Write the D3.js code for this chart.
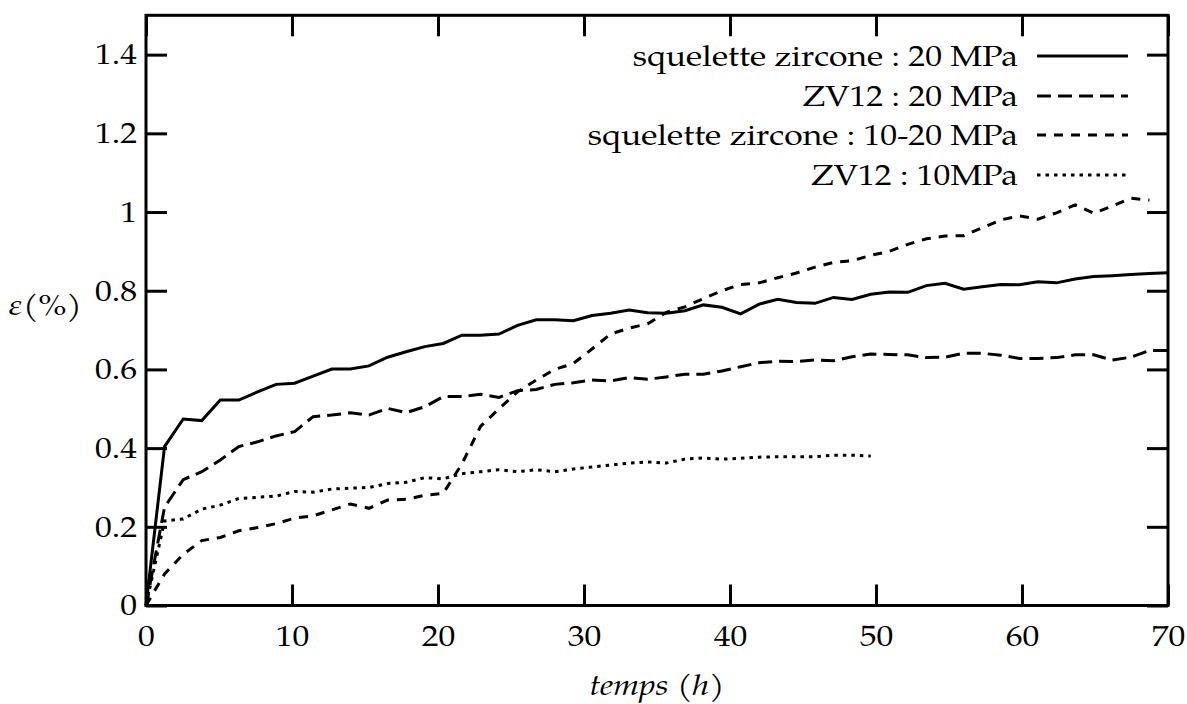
<!DOCTYPE html>
<html>
<head>
<meta charset="utf-8">
<script src="https://cdn.jsdelivr.net/npm/d3@7"></script>
<style>
  html, body { margin: 0; padding: 0; background: #fff; }
  svg { display: block; }
</style>
</head>
<body>
<svg id="chart" width="1187" height="704"></svg>
<script>
// Sampling times (h)
const hours = [0, 1.27, 2.55, 3.82, 5.09, 6.36, 7.64, 8.91, 10.18, 11.45, 12.73, 14, 15.27, 16.55,
  17.82, 19.09, 20.36, 21.64, 22.91, 24.18, 25.45, 26.73, 28, 29.27, 30.55, 31.82, 33.09, 34.36,
  35.64, 36.91, 38.18, 39.45, 40.73, 42, 43.27, 44.55, 45.82, 47.09, 48.36, 49.64, 50.91, 52.18,
  53.45, 54.73, 56, 57.27, 58.55, 59.82, 61.09, 62.36, 63.64, 64.91, 66.18, 67.45, 68.73, 70];

// Strain (%) for each test
const squelette20 = [0, 0.404, 0.474, 0.47, 0.522, 0.522, 0.543, 0.562, 0.565, 0.583, 0.601, 0.601,
  0.609, 0.631, 0.645, 0.658, 0.666, 0.687, 0.687, 0.690, 0.712, 0.726, 0.726, 0.724, 0.737, 0.743,
  0.751, 0.744, 0.743, 0.749, 0.764, 0.758, 0.741, 0.766, 0.778, 0.770, 0.768, 0.783, 0.778, 0.791,
  0.797, 0.796, 0.813, 0.819, 0.804, 0.810, 0.816, 0.815, 0.823, 0.820, 0.830, 0.836, 0.838, 0.841,
  0.844, 0.846];

const zv12_20 = [0, 0.25, 0.32, 0.34, 0.370, 0.404, 0.416, 0.431, 0.442, 0.480, 0.484, 0.490, 0.484,
  0.501, 0.490, 0.505, 0.531, 0.531, 0.537, 0.529, 0.546, 0.549, 0.562, 0.566, 0.573, 0.571, 0.579,
  0.575, 0.581, 0.588, 0.588, 0.596, 0.607, 0.617, 0.621, 0.620, 0.624, 0.622, 0.632, 0.639, 0.638,
  0.637, 0.630, 0.631, 0.641, 0.641, 0.636, 0.628, 0.628, 0.630, 0.637, 0.637, 0.624, 0.631, 0.648,
  0.648];

const squelette10_20 = [0, 0.08, 0.13, 0.165, 0.173, 0.19, 0.198, 0.208, 0.222, 0.228, 0.243, 0.258,
  0.247, 0.268, 0.27, 0.28, 0.285, 0.36, 0.455, 0.50, 0.543, 0.573, 0.60, 0.615, 0.652, 0.69, 0.705,
  0.716, 0.745, 0.759, 0.78, 0.80, 0.816, 0.82, 0.833, 0.845, 0.86, 0.872, 0.876, 0.89, 0.90, 0.918,
  0.932, 0.939, 0.94, 0.96, 0.98, 0.99, 0.982, 0.998, 1.018, 0.997, 1.015, 1.035, 1.03];

const zv12_10 = [0, 0.215, 0.22, 0.245, 0.255, 0.272, 0.275, 0.278, 0.29, 0.288, 0.296, 0.298, 0.30,
  0.31, 0.313, 0.325, 0.322, 0.335, 0.34, 0.345, 0.34, 0.345, 0.34, 0.347, 0.352, 0.357, 0.362, 0.365,
  0.362, 0.372, 0.375, 0.372, 0.374, 0.377, 0.378, 0.378, 0.378, 0.382, 0.382, 0.38];

const seriesLabels = ["squelette zircone : 20 MPa", "ZV12 : 20 MPa",
  "squelette zircone : 10-20 MPa", "ZV12 : 10MPa"];

const xTicks = [0, 10, 20, 30, 40, 50, 60, 70];
const yTicks = [0, 0.2, 0.4, 0.6, 0.8, 1, 1.2, 1.4];

const series = [
  { label: seriesLabels[0], values: squelette20, dash: null },
  { label: seriesLabels[1], values: zv12_20, dash: "14,7" },
  { label: seriesLabels[2], values: squelette10_20, dash: "9,8" },
  { label: seriesLabels[3], values: zv12_10, dash: "3.5,5" }
];

const FONT = "'TeX Gyre Pagella', 'Liberation Serif', serif";
const FONT_SIZE = 29;
const SX = 1.16; // the figure's glyphs are set slightly wide

const svg = d3.select("#chart");
const plotLeft = 146, plotRight = 1168, plotTop = 15.3, plotBottom = 605.5;

const x = d3.scaleLinear().domain([0, 70]).range([plotLeft, plotRight]);
const y = d3.scaleLinear().domain([0, 1.5]).range([plotBottom, plotTop]);

const tickLen = 21;
const fmt = d3.format("~g");

// Axes with inward ticks on all four sides
const gx = svg.append("g").attr("transform", `translate(0,${plotBottom})`)
  .call(d3.axisBottom(x).tickValues(xTicks).tickSize(-tickLen).tickPadding(20).tickFormat(fmt));
const gxTop = svg.append("g").attr("transform", `translate(0,${plotTop})`)
  .call(d3.axisTop(x).tickValues(xTicks).tickSize(-tickLen).tickFormat(""));
const gy = svg.append("g").attr("transform", `translate(${plotLeft},0)`)
  .call(d3.axisLeft(y).tickValues(yTicks).tickSize(-tickLen).tickPadding(9).tickFormat(fmt));
const gyRight = svg.append("g").attr("transform", `translate(${plotRight},0)`)
  .call(d3.axisRight(y).tickValues(yTicks).tickSize(-tickLen).tickFormat(""));

[gx, gxTop, gy, gyRight].forEach(g => {
  g.attr("font-family", FONT).attr("font-size", FONT_SIZE);
  g.select(".domain").remove();
  g.selectAll(".tick line").attr("stroke", "#000").attr("stroke-width", 3);
  g.selectAll(".tick text").attr("fill", "#000")
    .attr("x", function () { return (+d3.select(this).attr("x") || 0) / SX; })
    .attr("transform", `scale(${SX},1)`);
});

// Series lines
const line = d3.line().x((d, i) => x(hours[i])).y(d => y(d));
const plot = svg.append("g");
series.forEach(s => {
  plot.append("path")
    .datum(s.values)
    .attr("d", line)
    .attr("fill", "none")
    .attr("stroke", "#000")
    .attr("stroke-width", 3)
    .attr("stroke-linejoin", "miter")
    .attr("stroke-dasharray", s.dash);
});

// Frame
svg.append("rect")
  .attr("x", plotLeft).attr("y", plotTop)
  .attr("width", plotRight - plotLeft).attr("height", plotBottom - plotTop)
  .attr("fill", "none").attr("stroke", "#000").attr("stroke-width", 3);

function label(px, py, anchor) {
  return svg.append("text")
    .attr("transform", `translate(${px},${py}) scale(${SX},1)`)
    .attr("text-anchor", anchor)
    .attr("font-family", FONT)
    .attr("font-size", FONT_SIZE)
    .attr("fill", "#000");
}

// Legend
const legendRows = [56, 96, 135, 175];
series.forEach((s, i) => {
  const ly = legendRows[i];
  label(1018, ly, "end").attr("dy", "0.35em").text(s.label);
  svg.append("line")
    .attr("x1", 1037).attr("x2", 1128)
    .attr("y1", ly).attr("y2", ly)
    .attr("stroke", "#000").attr("stroke-width", 3)
    .attr("stroke-dasharray", s.dash);
});

// Axis titles
label(657, 695, "middle")
  .html('<tspan font-style="italic">temps</tspan> (<tspan font-style="italic">h</tspan>)');

label(45, 305, "middle").attr("dy", "0.35em")
  .html('<tspan font-style="italic">ε</tspan>(%)');
</script>
</body>
</html>
